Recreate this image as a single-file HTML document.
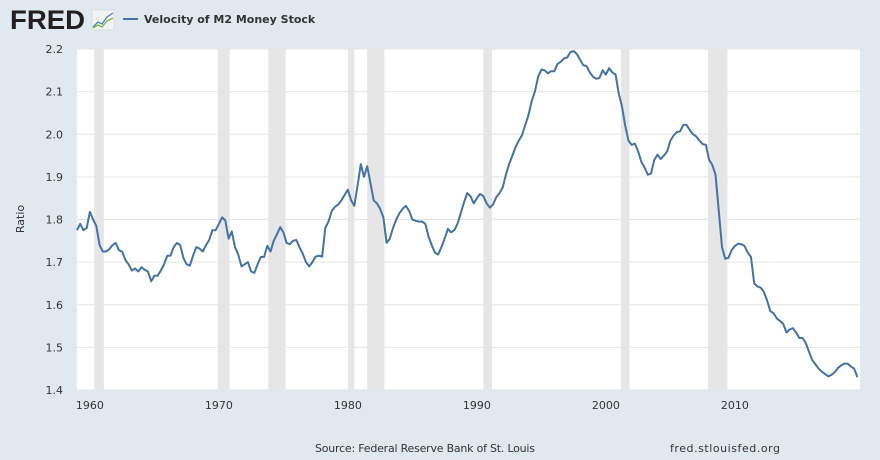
<!DOCTYPE html>
<html><head><meta charset="utf-8"><style>
body{margin:0;width:880px;height:460px;background:#e1e9f0;font-family:"Liberation Sans",sans-serif;overflow:hidden}
svg{position:absolute;left:0;top:0}
</style></head><body>
<svg id="c" width="880" height="460">
<g>
<text x="10" y="29" font-size="27" font-weight="bold" fill="#231f20" font-family="Liberation Sans,sans-serif" textLength="75" lengthAdjust="spacingAndGlyphs">FRED</text>
<rect x="92" y="10" width="22" height="20" fill="#f2f4f3" stroke="#ccc" stroke-width="0.5"/>
<polyline points="93,27 98,22 102,24 107,17 113,13" fill="none" stroke="#4c7fb8" stroke-width="1.3"/>
<polyline points="93,28 98,25 102,27 107,21 113,18" fill="none" stroke="#7bb043" stroke-width="1.3"/>
</g>
<g>
<line x1="123" y1="19" x2="138" y2="19" stroke="#4572a7" stroke-width="2"/>
<text x="144" y="23" font-size="11" font-weight="bold" fill="#333" font-family="DejaVu Sans,sans-serif">Velocity of M2 Money Stock</text>
</g>
<rect x="77" y="49" width="783" height="341" fill="#fff"/>
<g id="rec"></g><g id="grid"></g><g id="axes"></g><g id="series"></g>
<text transform="translate(24,219) rotate(-90)" text-anchor="middle" font-size="11" fill="#333" font-family="DejaVu Sans,sans-serif">Ratio</text>
<text x="315" y="452" font-size="11" fill="#333" font-family="DejaVu Sans,sans-serif" textLength="220">Source: Federal Reserve Bank of St. Louis</text>
<text x="670" y="452" font-size="11" fill="#333" font-family="DejaVu Sans,sans-serif" textLength="110">fred.stlouisfed.org</text>
</svg>
<script>
const startYear = 1959;
const values = [
1.775,1.79,1.775,1.78, 1.818,1.80,1.785,1.74, 1.725,1.725,1.73,1.74, 1.745,1.728,1.725,1.705,
1.695,1.68,1.685,1.678, 1.688,1.682,1.678,1.655, 1.668,1.668,1.68,1.695, 1.715,1.715,1.735,1.745,
1.74,1.71,1.695,1.692, 1.715,1.735,1.732,1.725, 1.74,1.752,1.775,1.775, 1.79,1.805,1.798,1.755,
1.772,1.735,1.718,1.69, 1.695,1.70,1.678,1.675, 1.695,1.712,1.712,1.738, 1.725,1.75,1.765,1.782,
1.77,1.745,1.742,1.75, 1.752,1.735,1.72,1.70, 1.69,1.70,1.713,1.715, 1.713,1.78,1.795,1.82,
1.83,1.835,1.845,1.858, 1.87,1.845,1.832,1.88, 1.93,1.90,1.925,1.885, 1.845,1.838,1.825,1.805,
1.745,1.755,1.78,1.80, 1.815,1.825,1.832,1.82, 1.80,1.797,1.795,1.795, 1.79,1.76,1.74,1.722,
1.718,1.735,1.755,1.778, 1.77,1.775,1.79,1.815, 1.84,1.862,1.855,1.838, 1.85,1.86,1.855,1.838,
1.828,1.835,1.852,1.862, 1.875,1.905,1.93,1.95, 1.97,1.985,1.998,2.022, 2.045,2.078,2.10,2.135,
2.152,2.15,2.143,2.148, 2.148,2.165,2.17,2.178, 2.18,2.193,2.195,2.188, 2.175,2.162,2.16,2.145,
2.135,2.13,2.132,2.15, 2.14,2.155,2.145,2.14, 2.095,2.065,2.02,1.985, 1.975,1.978,1.96,1.935,
1.922,1.905,1.908,1.94, 1.952,1.942,1.95,1.96, 1.985,1.997,2.005,2.007, 2.022,2.022,2.01,2.0,
1.995,1.985,1.977,1.975, 1.94,1.928,1.905,1.82, 1.735,1.708,1.71,1.728, 1.738,1.743,1.742,1.738,
1.722,1.712,1.65,1.643, 1.64,1.63,1.61,1.585, 1.58,1.568,1.562,1.555, 1.535,1.542,1.545,1.535,
1.522,1.522,1.51,1.49, 1.47,1.46,1.45,1.443, 1.437,1.432,1.436,1.442, 1.452,1.458,1.462,1.462,
1.455,1.45,1.43];
const recStart = [1960.33,1969.92,1973.83,1980.0,1981.5,1990.5,2001.17,2007.92];
const recEnd   = [1961.08,1970.83,1975.17,1980.5,1982.83,1991.17,2001.83,2009.42];
const yTicks = [1.4,1.5,1.6,1.7,1.8,1.9,2.0,2.1,2.2];
const xTicks = [1960,1970,1980,1990,2000,2010];

const X0=77,X1=860,Y0=49,Y1=390,T0=1959.0,T1=2019.7;
const xs=t=>X0+(t-T0)/(T1-T0)*(X1-X0);
const ys=v=>Y1-(v-1.4)/(0.8)*(Y1-Y0);
const NS='http://www.w3.org/2000/svg';
function mk(tag,attrs,parent){const e=document.createElementNS(NS,tag);for(const k in attrs)e.setAttribute(k,attrs[k]);document.getElementById(parent).appendChild(e);return e;}
recStart.forEach((s,i)=>{
 const r=mk('rect',{x:xs(s),y:Y0,width:xs(recEnd[i])-xs(s),height:Y1-Y0,fill:'#e6e6e6'},'rec');
 
 
});
yTicks.forEach(v=>{
 const l=mk('line',{x1:X0,x2:X1,y1:ys(v),y2:ys(v),stroke:'#e6e6e6','stroke-width':1},'grid');
 
 
 const t=mk('text',{x:63,y:ys(v)+4,'text-anchor':'end','font-size':11,fill:'#333','font-family':'DejaVu Sans,sans-serif'},'axes');
 t.textContent=v.toFixed(1);
 
 
});
xTicks.forEach(y=>{
 const t=mk('text',{x:xs(y),y:409,'text-anchor':'middle','font-size':11,fill:'#333','font-family':'DejaVu Sans,sans-serif'},'axes');
 t.textContent=y;
 
 
});
const pts=values.map((v,i)=>xs(startYear+i*0.25).toFixed(1)+','+ys(v).toFixed(1)).join(' ');
const pl=mk('polyline',{points:pts,fill:'none',stroke:'#4572a7','stroke-width':2,'stroke-linejoin':'round'},'series');


</script>
</body></html>
